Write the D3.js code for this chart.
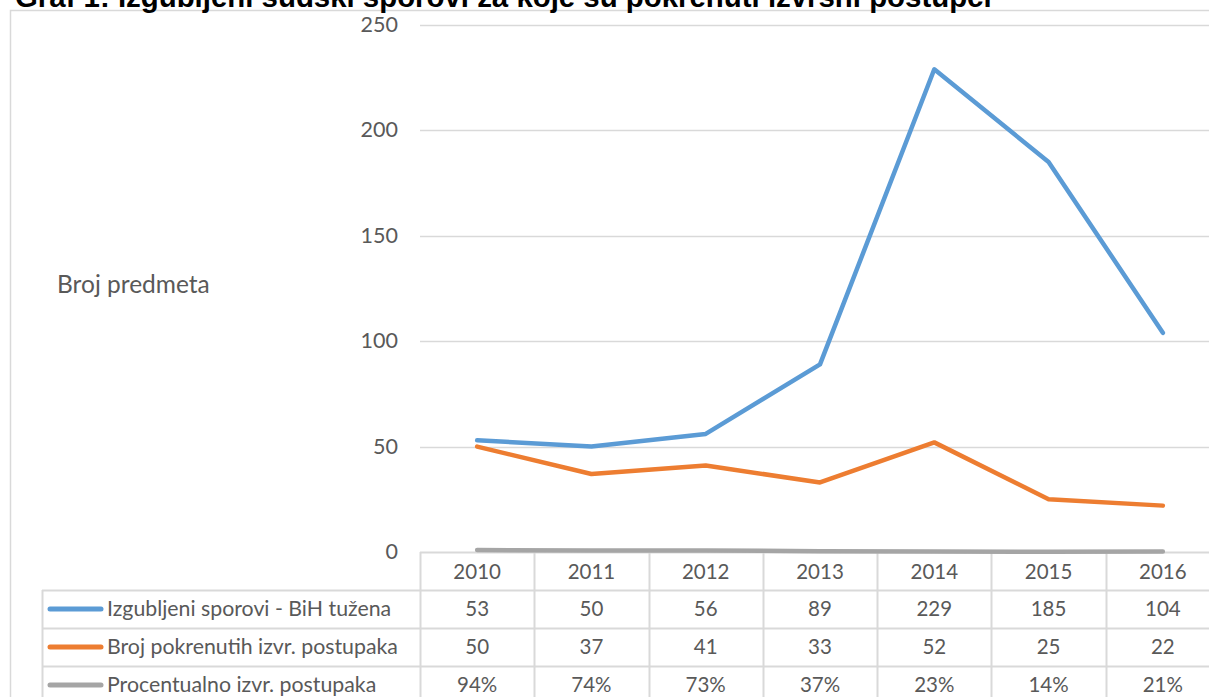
<!DOCTYPE html>
<html>
<head>
<meta charset="utf-8">
<script src="https://cdn.jsdelivr.net/npm/d3@7"></script>
<style>
  body { margin: 0; background: #fff; overflow: hidden; }
  svg { display: block; }
</style>
</head>
<body>
<div id="chart"></div>
<script>
// data
var years = ["2010", "2011", "2012", "2013", "2014", "2015", "2016"];
var izgubljeni = [53, 50, 56, 89, 229, 185, 104];
var pokrenuti = [50, 37, 41, 33, 52, 25, 22];
var procentualno = [0.94, 0.74, 0.73, 0.37, 0.23, 0.14, 0.21];
var yTicks = [0, 50, 100, 150, 200, 250];
var seriesNames = ["Izgubljeni sporovi - BiH tužena", "Broj pokrenutih izvr. postupaka", "Procentualno izvr. postupaka"];
var colors = ["#5B9BD5", "#ED7D31", "#A5A5A5"];

var W = 1209, H = 697;
var font = "Lato, 'Noto Sans', sans-serif";
var textColor = "#595959";
var gridColor = "#D9D9D9";

var svg = d3.select("#chart").append("svg")
    .attr("width", W)
    .attr("height", H);

// outer chart frame
svg.append("rect")
   .attr("x", 10.5).attr("y", 10.5)
   .attr("width", 1240).attr("height", 720)
   .attr("fill", "none")
   .attr("stroke", gridColor)
   .attr("stroke-width", 1.5);

// title (cut off at the top, as in the original)
svg.append("text")
   .attr("x", 15)
   .attr("y", 7)
   .attr("font-family", "'Liberation Sans', Arial, sans-serif")
   .attr("font-weight", "bold")
   .attr("font-size", "29.4px")
   .attr("fill", "#000")
   .text("Graf 1: Izgubljeni sudski sporovi za koje su pokrenuti izvršni postupci");

// scales
var x = d3.scaleBand()
    .domain(years)
    .range([420, 1220]);

var y = d3.scaleLinear()
    .domain([0, 250])
    .range([552, 25]);

// grid lines
svg.append("g")
   .selectAll("line")
   .data(yTicks.filter(function(d) { return d > 0; }))
   .enter().append("line")
     .attr("x1", 420).attr("x2", W)
     .attr("y1", function(d) { return Math.round(y(d)) + 0.5; })
     .attr("y2", function(d) { return Math.round(y(d)) + 0.5; })
     .attr("stroke", gridColor)
     .attr("stroke-width", 1.5);

// y tick labels
svg.append("g")
   .selectAll("text")
   .data(yTicks)
   .enter().append("text")
     .attr("x", 398)
     .attr("y", function(d) { return y(d) + 7; })
     .attr("text-anchor", "end")
     .attr("font-family", font)
     .attr("font-size", "21.5px")
     .attr("fill", textColor)
     .text(function(d) { return d; });

// y axis title
svg.append("text")
   .attr("x", 57)
   .attr("y", 293)
   .attr("font-family", font)
   .attr("font-size", "24.5px")
   .attr("fill", textColor)
   .text("Broj predmeta");

// data table
var rowTop = [552, 590, 628, 666];
var table = svg.append("g");

// horizontal table lines
table.append("line")
   .attr("x1", 420).attr("x2", W)
   .attr("y1", 552.5).attr("y2", 552.5)
   .attr("stroke", gridColor).attr("stroke-width", 2);
[590, 628, 666].forEach(function(yy) {
  table.append("line")
     .attr("x1", 42).attr("x2", W)
     .attr("y1", yy + 0.5).attr("y2", yy + 0.5)
     .attr("stroke", gridColor).attr("stroke-width", 2);
});
// vertical table lines
table.append("line")
   .attr("x1", 42.5).attr("x2", 42.5)
   .attr("y1", 590).attr("y2", H)
   .attr("stroke", gridColor).attr("stroke-width", 2);
years.forEach(function(yr) {
  table.append("line")
     .attr("x1", Math.round(x(yr)) + 0.5).attr("x2", Math.round(x(yr)) + 0.5)
     .attr("y1", 552).attr("y2", H)
     .attr("stroke", gridColor).attr("stroke-width", 2);
});

// header years
table.selectAll(".yr")
   .data(years)
   .enter().append("text")
     .attr("class", "yr")
     .attr("x", function(d) { return x(d) + x.bandwidth() / 2; })
     .attr("y", 579)
     .attr("text-anchor", "middle")
     .attr("font-family", font)
     .attr("font-size", "20.5px")
     .attr("fill", textColor)
     .text(function(d) { return d; });

var rows = [
  izgubljeni.map(String),
  pokrenuti.map(String),
  procentualno.map(function(v) { return Math.round(v * 100) + "%"; })
];

rows.forEach(function(vals, i) {
  var base = rowTop[i + 1] + 26;
  table.append("line")
     .attr("x1", 50).attr("x2", 101)
     .attr("y1", base - 7).attr("y2", base - 7)
     .attr("stroke", colors[i])
     .attr("stroke-width", 5)
     .attr("stroke-linecap", "round");
  table.append("text")
     .attr("x", 107)
     .attr("y", base)
     .attr("font-family", font)
     .attr("font-size", "21.3px")
     .attr("fill", textColor)
     .text(seriesNames[i]);
  table.selectAll(".v" + i)
     .data(vals)
     .enter().append("text")
       .attr("x", function(d, j) { return x(years[j]) + x.bandwidth() / 2; })
       .attr("y", base)
       .attr("text-anchor", "middle")
       .attr("font-family", font)
       .attr("font-size", "20.5px")
       .attr("fill", textColor)
       .text(function(d) { return d; });
});

// lines
var line = d3.line()
    .x(function(d, i) { return x(years[i]) + x.bandwidth() / 2; })
    .y(function(d) { return y(d); });

[izgubljeni, pokrenuti, procentualno].forEach(function(s, i) {
  svg.append("path")
     .datum(s)
     .attr("d", line)
     .attr("fill", "none")
     .attr("stroke", colors[i])
     .attr("stroke-width", 4.5)
     .attr("stroke-linecap", "round")
     .attr("stroke-linejoin", "round");
});
</script>
</body>
</html>
